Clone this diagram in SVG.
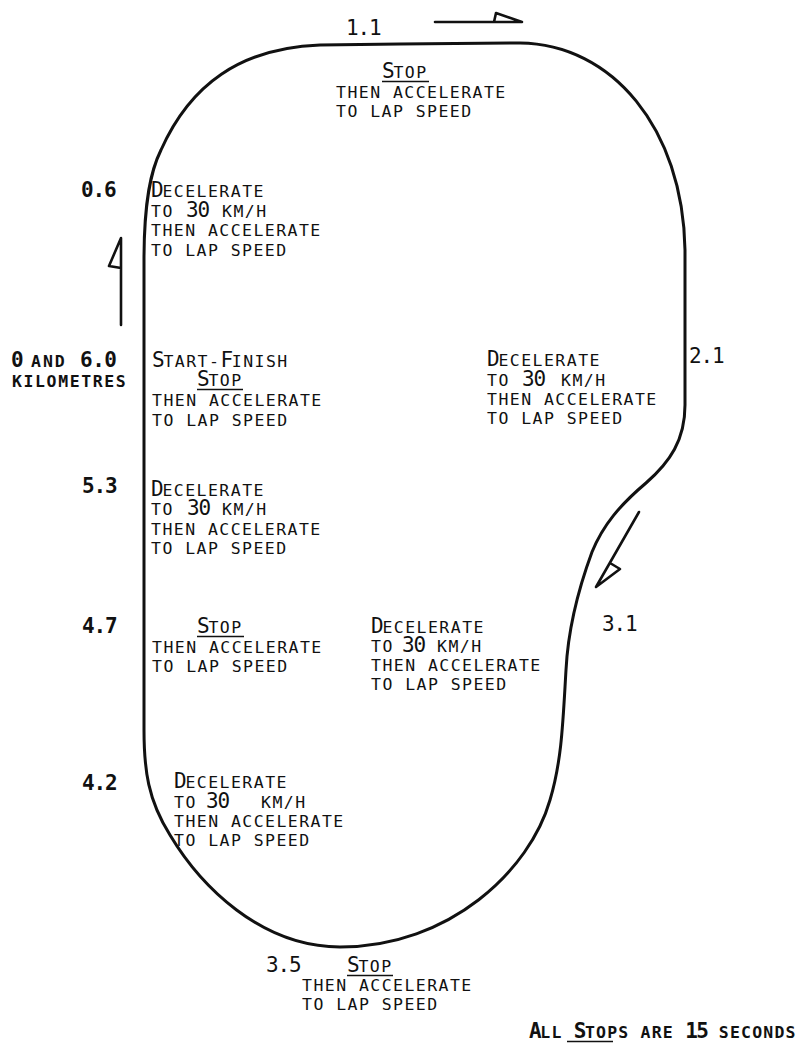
<svg xmlns="http://www.w3.org/2000/svg" width="799" height="1048" viewBox="0 0 799 1048">
<style>
.t{font-family:"DejaVu Sans Mono","Liberation Mono",monospace;font-size:16.5px;letter-spacing:1.45px;fill:#111}
.b{font-size:21px;letter-spacing:-1.2px}
.bold{font-weight:bold}
.num{font-family:"DejaVu Sans Mono","Liberation Mono",monospace;font-size:21px;letter-spacing:-1.2px;fill:#111}
.ul{stroke:#111;stroke-width:1.6}
.trk{fill:none;stroke:#111;stroke-width:3;stroke-linejoin:round}
.arr{fill:none;stroke:#111;stroke-width:2.6;stroke-linejoin:round;stroke-linecap:round}
</style>
<rect width="799" height="1048" fill="#fff"/>
<g id="track">
<path class="trk" d="M 400,44 L 520,43 C 612,44 683,128 685,250 L 685,405 C 685,440 670,462 646,483 C 620,505 603,525 592,552 C 578,590 568,630 566,670 C 563,720 562,760 550,800 C 530,870 450,947 340,947 C 260,947 200,885 170,835 C 148,800 144,770 144,730 L 144,260 C 144,200 151,170 161,150 C 190,85 240,48 320,45 Z"/>
</g>
<g id="connectors">
<path class="arr" d="M 435,22 L 522,22 L 496,13 L 494,22"/>
<path class="arr" d="M 121,325 L 121,238 L 109,266 L 121,268"/>
<path class="arr" d="M 639,512 L 596,587 L 620,569 L 610,563"/>
</g>
<g id="km-1-1"><text class="num" x="346" y="35">1.1</text></g>
<g id="stop-1-1">
<text class="t" x="382" y="78"><tspan class="b">S</tspan>TOP</text>
<line class="ul" x1="382" y1="81.5" x2="429" y2="81.5"/>
<text class="t" x="336" y="98">THEN ACCELERATE</text>
<text class="t" x="336" y="117">TO LAP SPEED</text>
</g>
<g id="km-0-6"><text class="num bold" x="81" y="197">0.6</text></g>
<g id="decel-0-6">
<text class="t" x="151" y="197"><tspan class="b">D</tspan>ECELERATE</text>
<text class="t" x="151" y="217">TO</text><text class="t b" x="186" y="217">30</text><text class="t" x="222" y="217">KM/H</text>
<text class="t" x="151" y="236">THEN ACCELERATE</text>
<text class="t" x="151" y="256">TO LAP SPEED</text>
</g>
<g id="km-0-6-0">
<text class="num bold" x="11" y="367">0</text>
<text class="t bold" x="31" y="367" style="letter-spacing:2px">AND</text>
<text class="num bold" x="80" y="367" style="letter-spacing:-0.5px">6.0</text>
<text class="t bold" x="12" y="387" style="letter-spacing:1.6px">KILOMETRES</text>
</g>
<g id="start-finish">
<text class="t" x="152" y="367"><tspan class="b">S</tspan>TART-<tspan class="b">F</tspan>INISH</text>
<text class="t" x="197" y="386"><tspan class="b">S</tspan>TOP</text>
<line class="ul" x1="197" y1="389.5" x2="243" y2="389.5"/>
<text class="t" x="152" y="406">THEN ACCELERATE</text>
<text class="t" x="152" y="426">TO LAP SPEED</text>
</g>
<g id="km-2-1"><text class="num" x="689" y="363">2.1</text></g>
<g id="decel-2-1">
<text class="t" x="487" y="366"><tspan class="b">D</tspan>ECELERATE</text>
<text class="t" x="487" y="386">TO</text><text class="t b" x="522" y="386">30</text><text class="t" x="561" y="386">KM/H</text>
<text class="t" x="487" y="405">THEN ACCELERATE</text>
<text class="t" x="487" y="424">TO LAP SPEED</text>
</g>
<g id="km-5-3"><text class="num bold" x="82" y="493">5.3</text></g>
<g id="decel-5-3">
<text class="t" x="151" y="496"><tspan class="b">D</tspan>ECELERATE</text>
<text class="t" x="151" y="515">TO</text><text class="t b" x="187" y="515">30</text><text class="t" x="222" y="515">KM/H</text>
<text class="t" x="151" y="535">THEN ACCELERATE</text>
<text class="t" x="151" y="554">TO LAP SPEED</text>
</g>
<g id="km-3-1"><text class="num" x="602" y="631">3.1</text></g>
<g id="km-4-7"><text class="num bold" x="82" y="633">4.7</text></g>
<g id="stop-4-7">
<text class="t" x="197" y="633"><tspan class="b">S</tspan>TOP</text>
<line class="ul" x1="197" y1="636.5" x2="244" y2="636.5"/>
<text class="t" x="152" y="653">THEN ACCELERATE</text>
<text class="t" x="152" y="672">TO LAP SPEED</text>
</g>
<g id="decel-mid">
<text class="t" x="371" y="633"><tspan class="b">D</tspan>ECELERATE</text>
<text class="t" x="371" y="652">TO</text><text class="t b" x="402" y="652">30</text><text class="t" x="437" y="652">KM/H</text>
<text class="t" x="371" y="671">THEN ACCELERATE</text>
<text class="t" x="371" y="690">TO LAP SPEED</text>
</g>
<g id="km-4-2"><text class="num bold" x="82" y="790">4.2</text></g>
<g id="decel-4-2">
<text class="t" x="174" y="788"><tspan class="b">D</tspan>ECELERATE</text>
<text class="t" x="174" y="808">TO</text><text class="t b" x="206" y="808">30</text><text class="t" x="261" y="808">KM/H</text>
<text class="t" x="174" y="827">THEN ACCELERATE</text>
<text class="t" x="174" y="846">TO LAP SPEED</text>
</g>
<g id="km-3-5"><text class="num" x="266" y="972">3.5</text></g>
<g id="stop-3-5">
<text class="t" x="347" y="972"><tspan class="b">S</tspan>TOP</text>
<line class="ul" x1="347" y1="975.5" x2="393" y2="975.5"/>
<text class="t" x="302" y="991">THEN ACCELERATE</text>
<text class="t" x="302" y="1010">TO LAP SPEED</text>
</g>
<g id="note">
<text class="t bold" x="529" y="1038" style="letter-spacing:1.2px"><tspan class="b" style="letter-spacing:-1.4px">A</tspan>LL <tspan class="b" style="letter-spacing:-1.4px">S</tspan>TOPS ARE <tspan class="b" style="letter-spacing:-1.4px">15</tspan> SECONDS</text>
<line class="ul" x1="567" y1="1041.5" x2="613" y2="1041.5"/>
</g>
</svg>
